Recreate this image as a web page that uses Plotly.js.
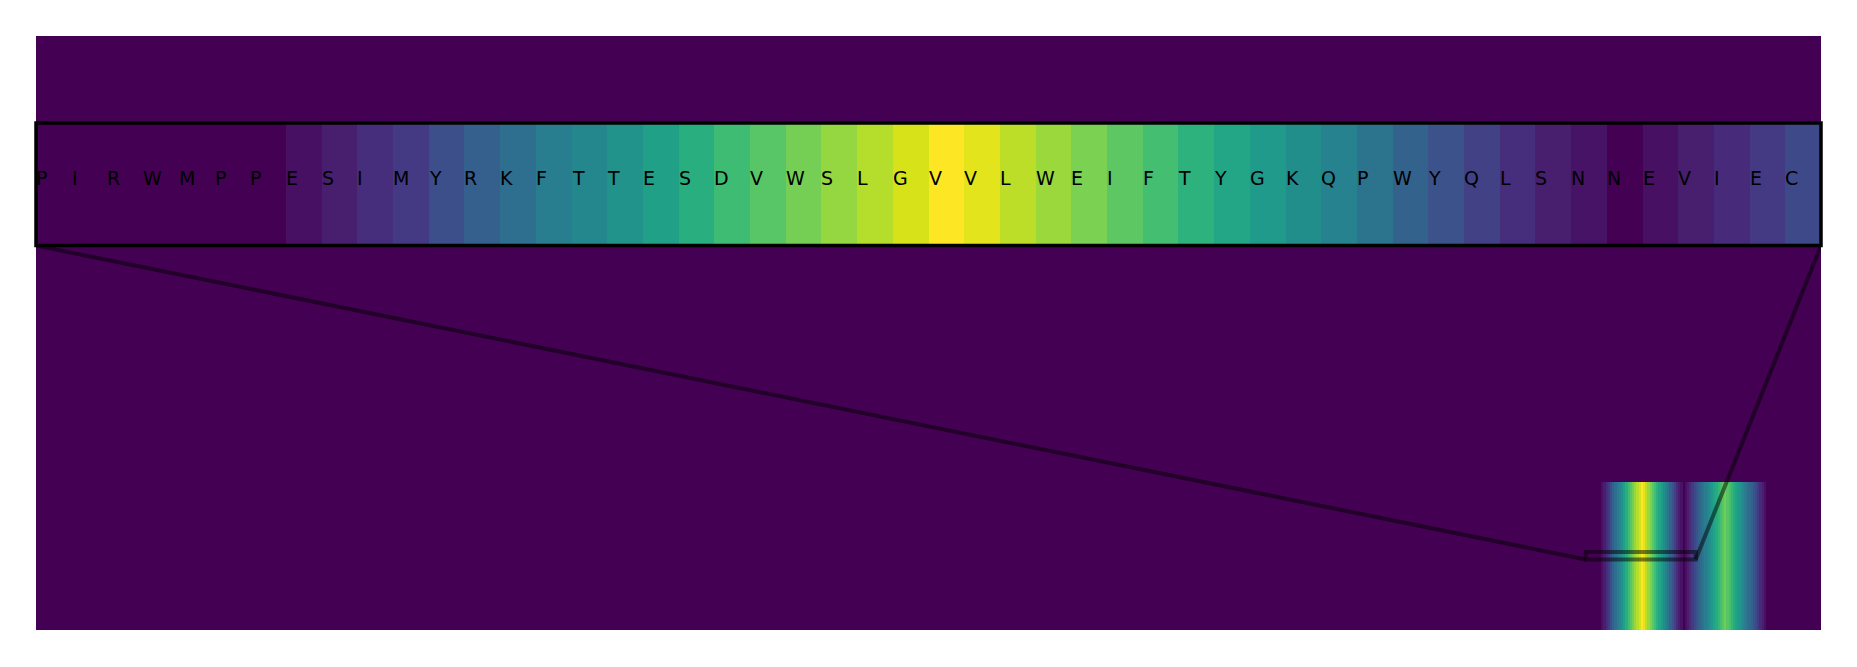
<!DOCTYPE html>
<html>
<head>
<meta charset="utf-8">
<script src="https://cdn.plot.ly/plotly-3.0.1.min.js"></script>
<style>html,body{margin:0;padding:0;background:#fff;}#chart{width:1857px;height:667px;}</style>
</head>
<body>
<div id="chart"></div>
<script>
// ---- data ----
const nRows = 80;            // rows of the main map
const nCols = 812;           // columns of the main map
const bandFirstRow = 60;     // first row carrying the profile
const profileStartCol = 705; // column where the profile array begins
// per-column values (relative to profileStartCol), estimated from the colours
const bandProfile = [
  0, 0, 0, 0, 0, 0, 0,
  0.04, 0.08, 0.13, 0.17, 0.24, 0.30, 0.36, 0.42, 0.46, 0.51,
  0.57, 0.63, 0.69, 0.74, 0.79, 0.84, 0.89, 0.94, 1.00,
  0.96, 0.90, 0.85, 0.80, 0.75, 0.70, 0.64, 0.59, 0.54, 0.49,
  0.44, 0.38, 0.31, 0.25, 0.19, 0.13, 0.08, 0.05, 0.00,
  0.04, 0.08, 0.12, 0.17, 0.22,
  0.26, 0.30, 0.34, 0.38, 0.42, 0.46, 0.50, 0.54, 0.58, 0.62, 0.66, 0.70, 0.74, 0.78,
  0.74, 0.70, 0.66, 0.62, 0.58, 0.54, 0.50, 0.46, 0.42, 0.38, 0.34, 0.30, 0.26,
  0.22, 0.17, 0.12, 0.08, 0.04, 0
];
const residues = ["P","I","R","W","M","P","P","E","S","I","M","Y","R","K","F","T","T",
  "E","S","D","V","W","S","L","G","V","V","L","W","E","I","F","T","Y","G","K","Q",
  "P","W","Y","Q","L","S","N","N","E","V","I","E","C"];
const zoomRow = 70;          // row shown in the inset
const zoomCol0 = 705;        // first column shown in the inset

// ---- build matrices ----
const mainZ = [];
for (let r = 0; r < nRows; r++) {
  const row = new Array(nCols).fill(0);
  if (r >= bandFirstRow) {
    bandProfile.forEach((v, k) => { row[profileStartCol + k] = v; });
  }
  mainZ.push(row);
}
const insetZ = [mainZ[zoomRow].slice(zoomCol0, zoomCol0 + residues.length)];
const insetX = residues.map((_, i) => i);

const insetDomain = [0.6473, 0.8535];

const traces = [
  {type: 'heatmap', z: mainZ, colorscale: 'Viridis', zmin: 0, zmax: 1,
   showscale: false, zsmooth: false, hoverinfo: 'skip', xaxis: 'x', yaxis: 'y'},
  {type: 'heatmap', z: insetZ, x: insetX, y: [0], colorscale: 'Viridis', zmin: 0, zmax: 1,
   showscale: false, zsmooth: false, hoverinfo: 'skip', xaxis: 'x2', yaxis: 'y2'}
];

const hidden = {showgrid: false, zeroline: false, showticklabels: false, ticks: '', showline: false, fixedrange: true};

// inset bottom expressed in main-axis data units
const insetBottomY = -0.5 + (1 - insetDomain[0]) * nRows;
const rectX0 = zoomCol0 - 0.5, rectX1 = zoomCol0 + residues.length - 0.5;
const rectY0 = zoomRow - 1, rectY1 = zoomRow;
const connector = {color: 'rgba(0,0,0,0.5)', width: 4};

const shapes = [
  {type: 'rect', xref: 'x', yref: 'y', x0: rectX0, x1: rectX1, y0: rectY0, y1: rectY1,
   line: connector, fillcolor: 'rgba(0,0,0,0)', layer: 'above'},
  {type: 'line', xref: 'x', yref: 'y', x0: -0.5, y0: insetBottomY, x1: rectX0, y1: rectY1,
   line: connector, layer: 'above'},
  {type: 'line', xref: 'x', yref: 'y', x0: nCols - 0.5, y0: insetBottomY, x1: rectX1, y1: rectY1,
   line: connector, layer: 'above'},
  {type: 'rect', xref: 'x2 domain', yref: 'y2 domain', x0: 0, x1: 1, y0: 0, y1: 1,
   line: {color: '#000', width: 3.5}, fillcolor: 'rgba(0,0,0,0)', layer: 'above'}
];

const annotations = residues.map((ch, i) => ({
  xref: 'x2', yref: 'y2', x: i - 0.5, y: 0, text: ch, showarrow: false,
  xanchor: 'left', yanchor: 'middle', xshift: -2, yshift: 6,
  font: {family: 'DejaVu Sans', size: 19, color: '#000'}
}));

const layout = {
  width: 1857, height: 667,
  margin: {l: 36, r: 36, t: 36, b: 37, pad: 0},
  paper_bgcolor: '#fff', plot_bgcolor: '#fff',
  showlegend: false,
  xaxis: Object.assign({domain: [0, 1], range: [-0.5, nCols - 0.5], anchor: 'y'}, hidden),
  yaxis: Object.assign({domain: [0, 1], range: [nRows - 0.5, -0.5], anchor: 'x'}, hidden),
  xaxis2: Object.assign({domain: [0, 1], range: [-0.5, residues.length - 0.5], anchor: 'y2'}, hidden),
  yaxis2: Object.assign({domain: insetDomain, range: [-0.5, 0.5], anchor: 'x2'}, hidden),
  shapes: shapes,
  annotations: annotations
};

Plotly.newPlot('chart', traces, layout, {staticPlot: true, displayModeBar: false});
</script>
</body>
</html>
